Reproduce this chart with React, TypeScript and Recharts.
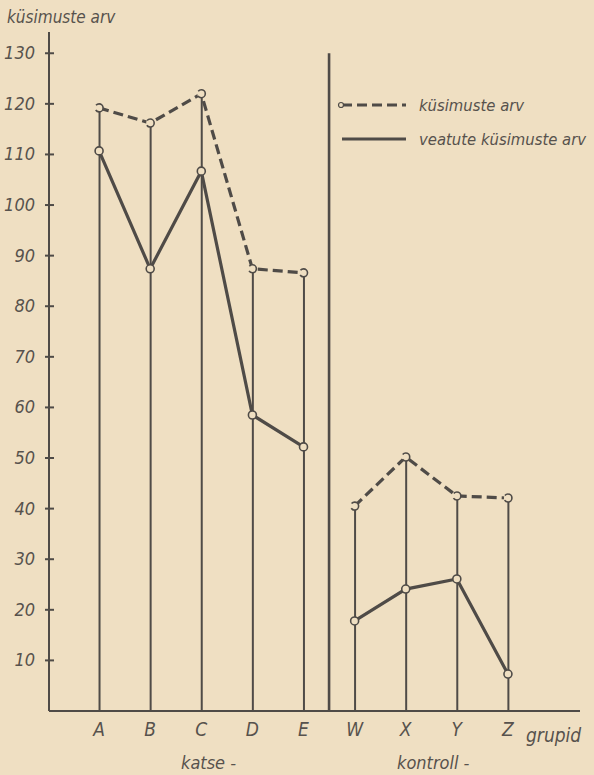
import React from 'react';
import { ComposedChart, Line, Bar, XAxis, YAxis, ReferenceLine } from 'recharts';

const groups = ['A', 'B', 'C', 'D', 'E', 'W', 'X', 'Y', 'Z'];
const questions = [119.2, 116.2, 122, 87.4, 86.6, 40.5, 50.2, 42.5, 42.1];
const errorFree = [110.7, 87.4, 106.7, 58.5, 52.2, 17.8, 24.1, 26.1, 7.3];
const isControl = [false, false, false, false, false, true, true, true, true];
const yTicks = [10, 20, 30, 40, 50, 60, 70, 80, 90, 100, 110, 120, 130];
const xTicks = [0, 1, 2, 3, 4, 5, 6, 7, 8];
const seriesNames = ['küsimuste arv', 'veatute küsimuste arv'];
const yTitle = 'küsimuste arv';
const xTitle = 'grupid';
const groupLabels = ['katse -', 'kontroll -'];
const dividerAt = 4.5;
const dividerTop = 130;

const data = groups.map((g, i) => ({
  x: i,
  g,
  questions: questions[i],
  qK: isControl[i] ? null : questions[i],
  qC: isControl[i] ? questions[i] : null,
  eK: isControl[i] ? null : errorFree[i],
  eC: isControl[i] ? errorFree[i] : null,
}));

const BG = '#efdfc2';
const INK = '#4f4b47';
const TXT = '#57524d';
const FONT = "'Liberation Sans Narrow', 'DejaVu Sans Condensed', 'Roboto Condensed', sans-serif";

const YTick = (props: any) => {
  const { x, y, payload } = props;
  return (
    <g>
      <line x1={x - 4} x2={x + 5} y1={y} y2={y} stroke={INK} strokeWidth={2} />
      <text x={x - 14} y={y} dy={6} textAnchor="end" fill={TXT} fontSize={18} fontStyle="italic" fontFamily={FONT}>
        {payload.value}
      </text>
    </g>
  );
};

const XTick = (props: any) => {
  const { x, y, payload } = props;
  return (
    <text x={x} y={y} dy={13} textAnchor="middle" fill={TXT} fontSize={19} fontStyle="italic" fontFamily={FONT}>
      {groups[payload.value]}
    </text>
  );
};

const dotStyle = { r: 4, fill: BG, stroke: INK, strokeWidth: 1.6 };

export default function App() {
  return (
    <div style={{ position: 'absolute', left: 0, top: 0, width: 594, height: 775, background: BG, overflow: 'hidden' }}>
      <ComposedChart width={594} height={775} data={data} margin={{ top: 32, right: 14, bottom: 34, left: 0 }}>
        <XAxis
          type="number"
          dataKey="x"
          domain={[-0.98, 9.41]}
          ticks={xTicks}
          tick={<XTick />}
          tickLine={false}
          tickSize={0}
          tickMargin={12}
          axisLine={{ stroke: INK, strokeWidth: 2 }}
          height={30}
          allowDataOverflow
        />
        <YAxis
          type="number"
          domain={[0, 134.2]}
          ticks={yTicks}
          tick={<YTick />}
          tickLine={false}
          tickSize={0}
          tickMargin={0}
          axisLine={{ stroke: INK, strokeWidth: 2 }}
          width={49}
          allowDataOverflow
        />
        <ReferenceLine
          segment={[{ x: dividerAt, y: 0 }, { x: dividerAt, y: dividerTop }]}
          stroke={INK}
          strokeWidth={2.6}
        />
        <Bar dataKey="questions" barSize={2} fill={INK} isAnimationActive={false} legendType="none" />
        <Line dataKey="qK" name={seriesNames[0]} stroke={INK} strokeWidth={3.2} strokeDasharray="10 5" dot={dotStyle} connectNulls={false} isAnimationActive={false} />
        <Line dataKey="qC" name={seriesNames[0]} stroke={INK} strokeWidth={3.2} strokeDasharray="10 5" dot={dotStyle} connectNulls={false} isAnimationActive={false} />
        <Line dataKey="eK" name={seriesNames[1]} stroke={INK} strokeWidth={3.2} dot={dotStyle} connectNulls={false} isAnimationActive={false} />
        <Line dataKey="eC" name={seriesNames[1]} stroke={INK} strokeWidth={3.2} dot={dotStyle} connectNulls={false} isAnimationActive={false} />
      </ComposedChart>
      <div style={{ position: 'absolute', left: 336, top: 88, fontFamily: FONT, fontStyle: 'italic', fontSize: 16.5, color: TXT, whiteSpace: 'nowrap' }}>
        {seriesNames.map((name, i) => (
          <div key={name} style={{ display: 'flex', alignItems: 'center', height: 34 }}>
            <svg width={80} height={14} style={{ marginRight: 3 }}>
              <line x1={6} x2={70} y1={7} y2={7} stroke={INK} strokeWidth={3} strokeDasharray={i === 0 ? '10 5' : undefined} />
              {i === 0 ? <circle cx={5} cy={7} r={2.5} fill={BG} stroke={INK} strokeWidth={1.2} /> : null}
            </svg>
            <span>{name}</span>
          </div>
        ))}
      </div>
      <div style={{ position: 'absolute', left: 7, top: 7, fontFamily: FONT, fontStyle: 'italic', fontSize: 17, color: TXT }}>
        {yTitle}
      </div>
      <div style={{ position: 'absolute', left: 526, top: 724, fontFamily: FONT, fontStyle: 'italic', fontSize: 19, color: TXT }}>
        {xTitle}
      </div>
      <div style={{ position: 'absolute', left: 181, top: 752, fontFamily: FONT, fontStyle: 'italic', fontSize: 18, color: TXT }}>
        {groupLabels[0]}
      </div>
      <div style={{ position: 'absolute', left: 397, top: 752, fontFamily: FONT, fontStyle: 'italic', fontSize: 18, color: TXT }}>
        {groupLabels[1]}
      </div>
    </div>
  );
}
